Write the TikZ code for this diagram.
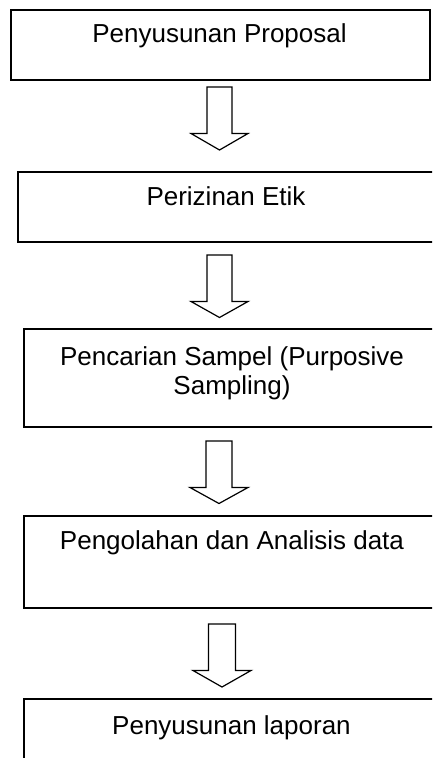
\documentclass[tikz,border=0pt]{standalone}
\usepackage{fontspec}
\setmainfont{Liberation Sans}
\begin{document}
\begin{tikzpicture}[x=1pt,y=-1pt,
        box/.style={draw,line width=2pt,inner sep=0pt,anchor=north west},
        stage/.style={inner sep=0pt,anchor=base,font=\fontsize{26}{29}\selectfont},
        blockarrow/.style={draw,line width=1.2pt,line join=miter}]
        \clip (0,0) rectangle (432,758);

        \node [box,minimum width=419,minimum height=70] (proposal) at (10,8.5) {};
        \node [box,minimum width=420,minimum height=69.5] (etik) at (16.5,171) {};
        \node [box,minimum width=418,minimum height=97.5] (sampel) at (23,328) {};
        \node [box,minimum width=418,minimum height=92] (analisis) at (23,515) {};
        \node [box,minimum width=418,minimum height=80] (laporan) at (23,698) {};

        \node [stage] (proposal text) at (219.5,42.5) {Penyusunan Proposal};
        \node [stage] (etik text) at (226,205) {Perizinan Etik};
        \node [stage,align=center,anchor=north] (sampel text) at (232,346) {Pencarian Sampel (Purposive\\Sampling)};
        \node [stage] (analisis text) at (232,549) {Pengolahan dan Analisis data};
        \node [stage] (laporan text) at (231.5,734) {Penyusunan laporan};

        \coordinate (A) at (219.5,87);
        \coordinate (B) at (219.5,255);
        \coordinate (C) at (219,441);
        \coordinate (D) at (222,624);

        \draw [blockarrow] (A) ++(-12.5,0) -- ++(25,0) -- ++(0,46.5) -- ++(16,0) -- ++(-28.5,16.5) -- ++(-28.5,-16.5) -- ++(16,0) -- cycle;
        \draw [blockarrow] (B) ++(-12.5,0) -- ++(25,0) -- ++(0,46.5) -- ++(16,0) -- ++(-28.5,16) -- ++(-28.5,-16) -- ++(16,0) -- cycle;
        \draw [blockarrow] (C) ++(-13,0) -- ++(26,0) -- ++(0,46.5) -- ++(16,0) -- ++(-29,16) -- ++(-29,-16) -- ++(16,0) -- cycle;
        \draw [blockarrow] (D) ++(-13.5,0) -- ++(27,0) -- ++(0,46.5) -- ++(15.5,0) -- ++(-29,16.5) -- ++(-29,-16.5) -- ++(15.5,0) -- cycle;
    \end{tikzpicture}
\end{document}
